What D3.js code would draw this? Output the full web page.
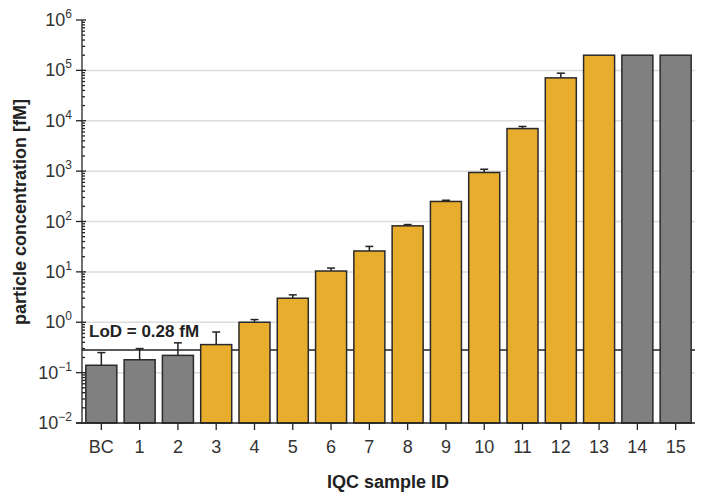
<!DOCTYPE html>
<html><head><meta charset="utf-8">
<script src="https://cdn.jsdelivr.net/npm/d3@7"></script>
<style>body{margin:0;background:#fff}svg{display:block}text{font-family:"Liberation Sans",Arial,sans-serif}</style>
</head><body><svg id="c" width="702" height="497"></svg>
<script>
const categories = ["BC","1","2","3","4","5","6","7","8","9","10","11","12","13","14","15"];
const values = [0.14,0.18,0.22,0.36,1.0,3.0,10.4,26,82,250,940,7000,71000,200000,200000,200000];
const errUpper = [0.25,0.30,0.39,0.64,1.13,3.5,11.9,32,87,264,1090,7700,88000,null,null,null];
const groups = ["gray","gray","gray","gold","gold","gold","gold","gold","gold","gold","gold","gold","gold","gold","gray","gray"];
const lod = 0.28;
const yTickExps = [-2,-1,0,1,2,3,4,5,6];

const svg = d3.select("#c");
const colors = {gray:"#808080", gold:"#E8AD2C"};
const x = d3.scaleBand().domain(categories).range([82,695]).paddingInner(0.19).paddingOuter(0.1);
const y = d3.scaleLog().domain([1e-2,1e6]).range([423,20]);

// gridlines
svg.append("g").selectAll("line").data(yTickExps.filter(e=>e>-2&&e<6)).join("line")
  .attr("x1",82).attr("x2",695).attr("y1",e=>y(Math.pow(10,e))).attr("y2",e=>y(Math.pow(10,e)))
  .attr("stroke","#dcdcdc").attr("stroke-width",1.5);

// LoD line
svg.append("line").attr("x1",82).attr("x2",695).attr("y1",y(lod)).attr("y2",y(lod))
  .attr("stroke","#222").attr("stroke-width",1.5);
svg.append("text").attr("x",89).attr("y",y(lod)-13).attr("font-size",17).attr("font-weight","bold")
  .attr("fill","#222").text("LoD = 0.28 fM");

// error bars
const eb = svg.append("g").attr("stroke","#222").attr("stroke-width",1.5);
categories.forEach((c,i)=>{
  if(errUpper[i]==null) return;
  const cx = x(c)+x.bandwidth()/2;
  eb.append("line").attr("x1",cx).attr("x2",cx).attr("y1",y(values[i])).attr("y2",y(errUpper[i]));
  eb.append("line").attr("x1",cx-4).attr("x2",cx+4).attr("y1",y(errUpper[i])).attr("y2",y(errUpper[i]));
});

// bars
svg.append("g").selectAll("rect").data(categories).join("rect")
  .attr("x",c=>x(c)).attr("width",x.bandwidth())
  .attr("y",(c,i)=>y(values[i])).attr("height",(c,i)=>y(1e-2)-y(values[i]))
  .attr("fill",(c,i)=>colors[groups[i]]).attr("stroke","#2a2a2a").attr("stroke-width",1.5);

// y axis
const ax = svg.append("g").attr("stroke","#222").attr("stroke-width",1.3);
ax.append("line").attr("x1",82).attr("x2",82).attr("y1",y(1e6)).attr("y2",y(1e-2));
const minor = y.ticks().filter(v=>{const m=v/Math.pow(10,Math.floor(Math.log10(v)+1e-9)); return Math.abs(m-1)>1e-6;});
ax.selectAll(".mn").data(minor).join("line").attr("x1",82).attr("x2",85).attr("y1",v=>y(v)).attr("y2",v=>y(v));
ax.selectAll(".mj").data(yTickExps).join("line").attr("x1",76).attr("x2",86)
  .attr("y1",e=>y(Math.pow(10,e))).attr("y2",e=>y(Math.pow(10,e)));
// x axis
ax.append("line").attr("x1",76).attr("x2",695).attr("y1",423).attr("y2",423);
ax.selectAll(".xt").data(categories).join("line").attr("x1",c=>x(c)+x.bandwidth()/2).attr("x2",c=>x(c)+x.bandwidth()/2)
  .attr("y1",423).attr("y2",430);

// y labels
const yl = svg.append("g").selectAll("text").data(yTickExps).join("text")
  .attr("x",72).attr("y",e=>y(Math.pow(10,e))+6).attr("text-anchor","end").attr("font-size",18).attr("fill","#333");
yl.append("tspan").text("10");
yl.append("tspan").attr("dy",-8).attr("font-size",12).text(e=>e<0?"\u2212"+(-e):String(e));

// x labels
svg.append("g").selectAll("text").data(categories).join("text")
  .attr("x",c=>x(c)+x.bandwidth()/2).attr("y",453).attr("text-anchor","middle").attr("font-size",18).attr("fill","#333")
  .text(c=>c);

// titles
svg.append("text").attr("x",388).attr("y",488).attr("text-anchor","middle").attr("font-size",18)
  .attr("font-weight","bold").attr("fill","#222").text("IQC sample ID");
svg.append("text").attr("transform","translate(26,212) rotate(-90)").attr("text-anchor","middle").attr("font-size",18)
  .attr("font-weight","bold").attr("fill","#222").text("particle concentration [fM]");
</script></body></html>
